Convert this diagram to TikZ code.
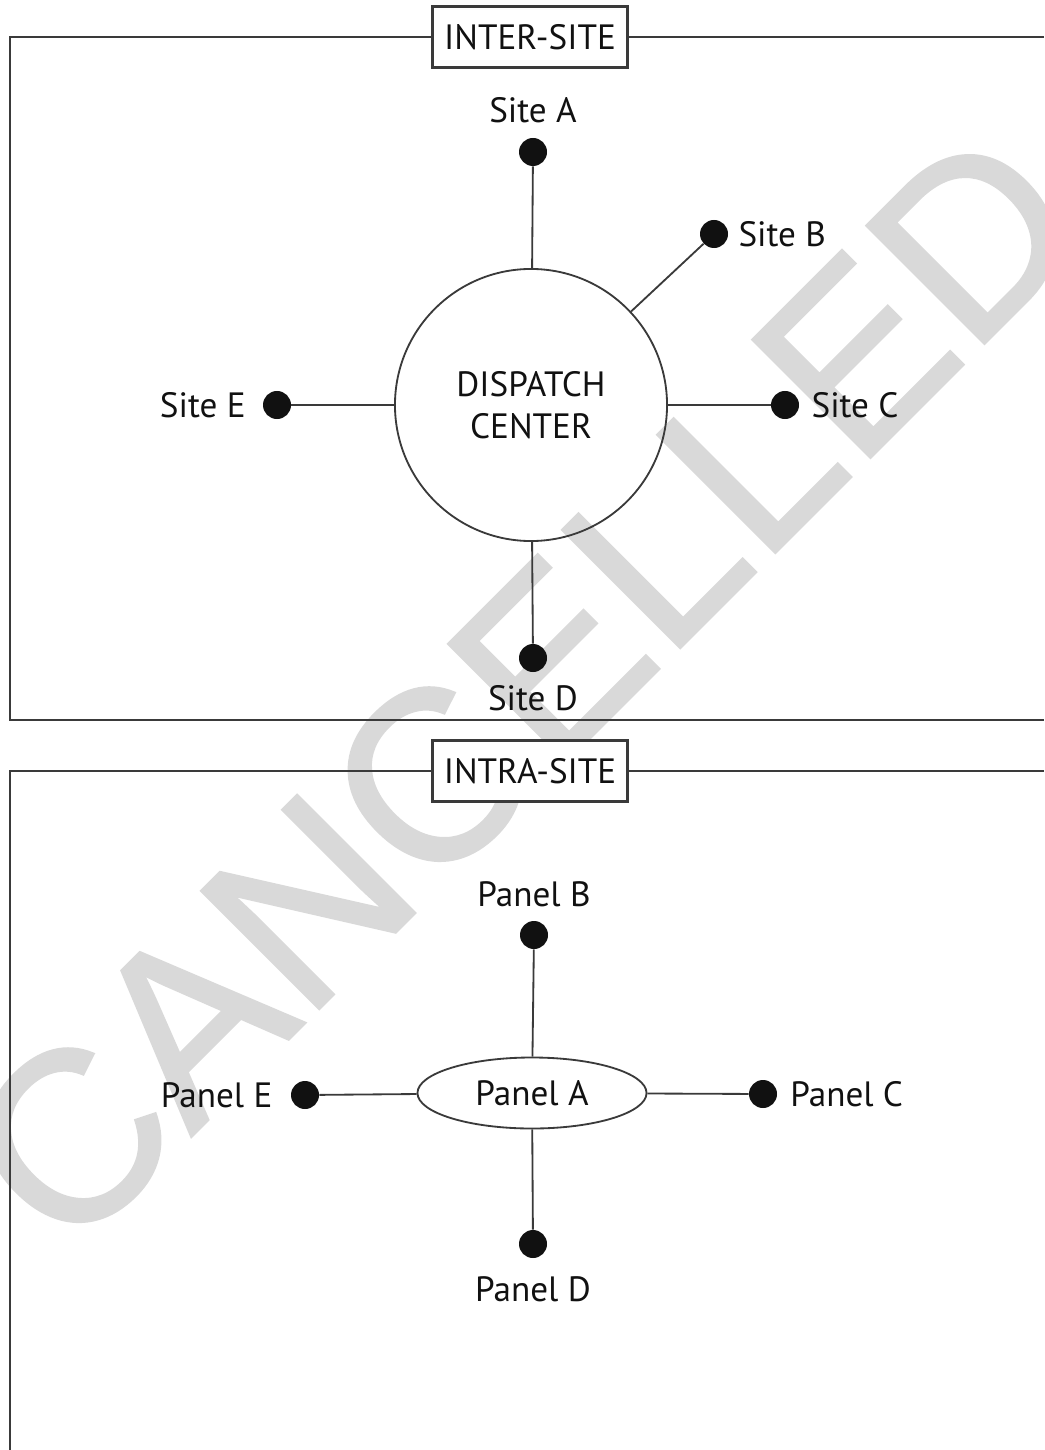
\documentclass[tikz,border=0pt]{standalone}
\usepackage{fontspec}
\setmainfont{PT Sans}
\newfontfamily\stampfont{Liberation Sans}[FakeBold=1.2]
\usetikzlibrary{positioning,shapes.geometric}
\definecolor{ink}{HTML}{111111}
\definecolor{frameline}{HTML}{3A3A3A}
\definecolor{stamp}{HTML}{D9D9D9}
\newcommand{\Wide}{1044}
\newcommand{\Tall}{1450}
\newcommand{\Mid}{531}

\begin{document}
\begin{tikzpicture}[x=0.025cm, y=-0.025cm, ink,
    txt/.style={font=\fontsize{25}{30}\selectfont, inner sep=0pt},
    dot/.style={circle, fill=ink, minimum size=0.7cm, inner sep=0pt},
    tag/.style={draw=frameline, line width=1.6pt, fill=white, minimum width=4.875cm, minimum height=1.525cm, txt},
    wire/.style={frameline, line width=1.3pt},
  ]
\useasboundingbox (0,0) rectangle (\Wide,\Tall);

% --- Watermark, behind everything ----------------------------------------------------
\node[stamp, rotate=45, inner sep=0pt, font=\stampfont\fontsize{172}{172}\selectfont] (stampword) at (522,688) {CANCELLED};

% --- The two frames ------------------------------------------------------------------
\draw[wire, line width=1.6pt] (\Wide,37) -- (10,37) -- (10,720) -- (\Wide,720);
\draw[wire, line width=1.6pt] (\Wide,771) -- (10,771) -- (10,\Tall);
\node[tag] (inter) at (530,37) {INTER-SITE};
\node[tag] (intra) at (530,771) {INTRA-SITE};

% --- Inter-site: the dispatch center and its sites -------------------------------------
\node[circle, draw=frameline, line width=1.3pt, minimum size=6.8cm, txt, align=center] (dc) at (\Mid,405) {DISPATCH\\CENTER};
\node[dot] (sa) at (533,152) {};
\node[dot] (sb) at (714,234) {};
\node[dot] (sc) at (785,405) {};
\node[dot] (sd) at (533,658) {};
\node[dot] (se) at (277,405) {};
\node[txt, above=0.36cm of sa] (sa-l) {Site A};
\node[txt, right=0.25cm of sb] (sb-l) {Site B};
\node[txt, right=0.3cm of sc] (sc-l) {Site C};
\node[txt, below=0.33cm of sd] (sd-l) {Site D};
\node[txt, left=0.42cm of se] (se-l) {Site E};
\foreach \s in {sa,sb,sc,sd,se}
  \draw[wire] (dc) -- (\s);

% --- Intra-site: panel A and the panels round it ---------------------------------------
\node[ellipse, draw=frameline, line width=1.3pt, minimum width=5.725cm, minimum height=1.775cm, txt] (pa) at (532,1093) {Panel A};
\node[dot] (pb) at (534,935) {};
\node[dot] (pc) at (763,1094) {};
\node[dot] (pd) at (533,1244) {};
\node[dot] (pe) at (305,1095) {};
\node[txt, above=0.33cm of pb] (pb-l) {Panel B};
\node[txt, right=0.32cm of pc] (pc-l) {Panel C};
\node[txt, below=0.45cm of pd] (pd-l) {Panel D};
\node[txt, left=0.45cm of pe] (pe-l) {Panel E};
\foreach \p in {pb,pc,pd,pe}
  \draw[wire] (pa) -- (\p);
\end{tikzpicture}
\end{document}
